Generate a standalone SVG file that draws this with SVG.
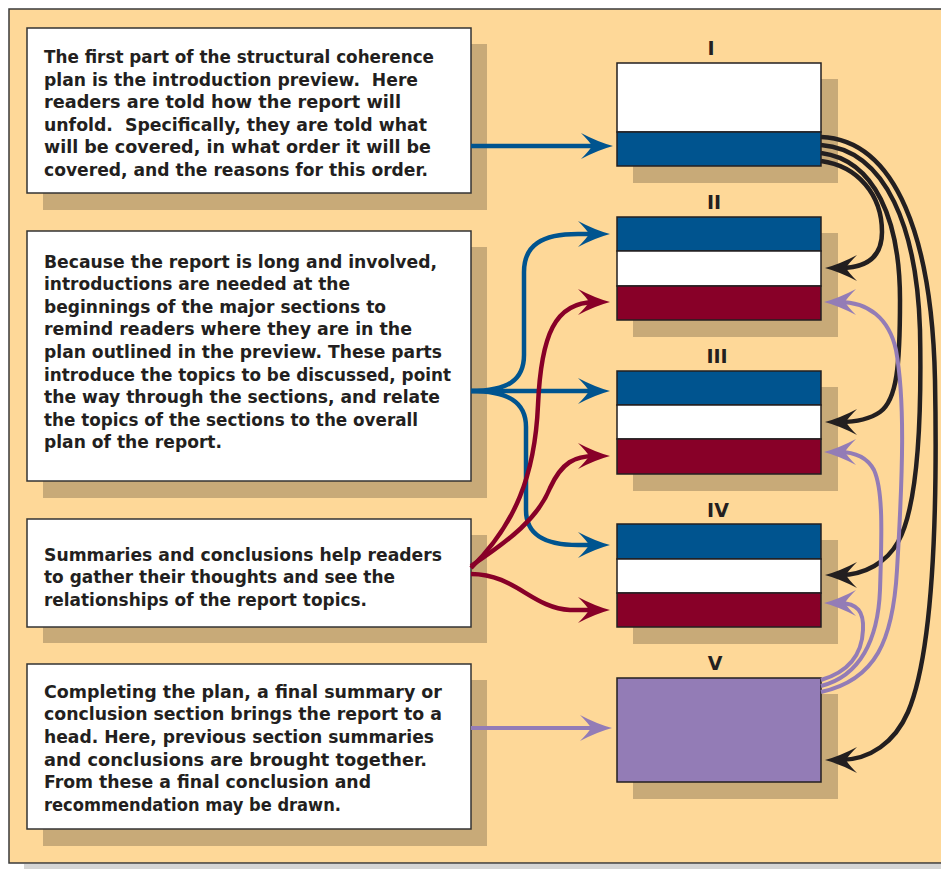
<svg xmlns="http://www.w3.org/2000/svg" width="941" height="869" viewBox="0 0 941 869">
  <style>
    .frame { fill: #FED898; stroke: #3a3a3a; stroke-width: 1.5; }
    .pageshadow { fill: #D5D5D5; }
    .shadow { fill: #C8AA78; }
    .note { fill: #FFFFFF; stroke: #333333; stroke-width: 1.5; }
    .txt { font-family: "DejaVu Sans", "Liberation Sans", sans-serif; font-weight: bold; font-size: 17px; fill: #231F20; white-space: pre; }
    .lbl { font-family: "DejaVu Sans", "Liberation Sans", sans-serif; font-weight: bold; font-size: 19px; fill: #231F20; text-anchor: middle; }
    .band { stroke: #231F20; stroke-width: 1.5; }
    .white { fill: #FFFFFF; }
    .blue { fill: #00548F; }
    .red { fill: #880028; }
    .purple { fill: #937CB6; }
    .c { fill: none; stroke-linecap: butt; stroke-linejoin: round; }
    .cb { stroke: #00548F; stroke-width: 4.5; marker-end: url(#ahBlue); }
    .cr { stroke: #880028; stroke-width: 4.5; marker-end: url(#ahRed); }
    .cp { stroke: #937CB6; stroke-width: 4; marker-end: url(#ahPurple); }
    .ck { stroke: #231F20; stroke-width: 4.5; marker-end: url(#ahBlack); }
  </style>
  <defs>
    <path id="head" d="M0,0 Q-15,-4 -32,-13 Q-23,-4 -21,0 Q-23,4 -32,13 Q-15,4 0,0 Z"/>
    <marker id="ahBlue" markerUnits="userSpaceOnUse" viewBox="-34 -15 36 30" markerWidth="36" markerHeight="30" refX="-15" refY="0" orient="auto">
      <use href="#head" fill="#00548F"/>
    </marker>
    <marker id="ahRed" markerUnits="userSpaceOnUse" viewBox="-34 -15 36 30" markerWidth="36" markerHeight="30" refX="-15" refY="0" orient="auto">
      <use href="#head" fill="#880028"/>
    </marker>
    <marker id="ahPurple" markerUnits="userSpaceOnUse" viewBox="-34 -15 36 30" markerWidth="36" markerHeight="30" refX="-15" refY="0" orient="auto">
      <use href="#head" fill="#937CB6"/>
    </marker>
    <marker id="ahBlack" markerUnits="userSpaceOnUse" viewBox="-34 -15 36 30" markerWidth="36" markerHeight="30" refX="-15" refY="0" orient="auto">
      <use href="#head" fill="#231F20"/>
    </marker>
  </defs>

  <!-- page background and panel -->
  <rect x="0" y="0" width="941" height="869" fill="#FFFFFF"/>
  <rect class="pageshadow" x="24" y="864" width="930" height="10"/>
  <rect class="frame" x="9" y="9" width="945" height="854"/>

  <!-- left notes -->
  <g id="note-preview">
    <rect class="shadow" x="43" y="44" width="444" height="166"/>
    <rect class="note" x="27" y="28" width="444" height="165"/>
    <text class="txt" x="44" y="63" textLength="390" lengthAdjust="spacingAndGlyphs">The first part of the structural coherence</text>
    <text class="txt" x="44" y="86" textLength="374" lengthAdjust="spacingAndGlyphs" xml:space="preserve">plan is the introduction preview.  Here</text>
    <text class="txt" x="44" y="108" textLength="357" lengthAdjust="spacingAndGlyphs">readers are told how the report will</text>
    <text class="txt" x="44" y="131" textLength="383" lengthAdjust="spacingAndGlyphs" xml:space="preserve">unfold.  Specifically, they are told what</text>
    <text class="txt" x="44" y="153" textLength="387" lengthAdjust="spacingAndGlyphs">will be covered, in what order it will be</text>
    <text class="txt" x="44" y="176" textLength="384" lengthAdjust="spacingAndGlyphs">covered, and the reasons for this order.</text>
  </g>

  <g id="note-introductions">
    <rect class="shadow" x="43" y="247" width="444" height="251"/>
    <rect class="note" x="27" y="231" width="444" height="250"/>
    <text class="txt" x="44" y="268" textLength="393" lengthAdjust="spacingAndGlyphs">Because the report is long and involved,</text>
    <text class="txt" x="44" y="290" textLength="306" lengthAdjust="spacingAndGlyphs">introductions are needed at the</text>
    <text class="txt" x="44" y="313" textLength="342" lengthAdjust="spacingAndGlyphs">beginnings of the major sections to</text>
    <text class="txt" x="44" y="335" textLength="368" lengthAdjust="spacingAndGlyphs">remind readers where they are in the</text>
    <text class="txt" x="44" y="358" textLength="398" lengthAdjust="spacingAndGlyphs">plan outlined in the preview. These parts</text>
    <text class="txt" x="44" y="381" textLength="407" lengthAdjust="spacingAndGlyphs">introduce the topics to be discussed, point</text>
    <text class="txt" x="44" y="403" textLength="396" lengthAdjust="spacingAndGlyphs">the way through the sections, and relate</text>
    <text class="txt" x="44" y="426" textLength="374" lengthAdjust="spacingAndGlyphs">the topics of the sections to the overall</text>
    <text class="txt" x="44" y="448" textLength="178" lengthAdjust="spacingAndGlyphs">plan of the report.</text>
  </g>

  <g id="note-summaries">
    <rect class="shadow" x="43" y="535" width="444" height="108"/>
    <rect class="note" x="27" y="519" width="444" height="108"/>
    <text class="txt" x="44" y="561" textLength="398" lengthAdjust="spacingAndGlyphs">Summaries and conclusions help readers</text>
    <text class="txt" x="44" y="583" textLength="351" lengthAdjust="spacingAndGlyphs">to gather their thoughts and see the</text>
    <text class="txt" x="44" y="606" textLength="323" lengthAdjust="spacingAndGlyphs">relationships of the report topics.</text>
  </g>

  <g id="note-final">
    <rect class="shadow" x="43" y="680" width="444" height="166"/>
    <rect class="note" x="27" y="664" width="444" height="165"/>
    <text class="txt" x="44" y="698" textLength="398" lengthAdjust="spacingAndGlyphs">Completing the plan, a final summary or</text>
    <text class="txt" x="44" y="720" textLength="398" lengthAdjust="spacingAndGlyphs">conclusion section brings the report to a</text>
    <text class="txt" x="44" y="743" textLength="390" lengthAdjust="spacingAndGlyphs">head. Here, previous section summaries</text>
    <text class="txt" x="44" y="766" textLength="383" lengthAdjust="spacingAndGlyphs">and conclusions are brought together.</text>
    <text class="txt" x="44" y="788" textLength="327" lengthAdjust="spacingAndGlyphs">From these a final conclusion and</text>
    <text class="txt" x="44" y="811" textLength="297" lengthAdjust="spacingAndGlyphs">recommendation may be drawn.</text>
  </g>

  <!-- report sections -->
  <g id="section-1">
    <text class="lbl" x="711" y="55">I</text>
    <rect class="shadow" x="633" y="79" width="205" height="104"/>
    <rect class="band white" x="617" y="63" width="204" height="69"/>
    <rect class="band blue" x="617" y="132" width="204" height="34"/>
  </g>

  <g id="section-2">
    <text class="lbl" x="714" y="209">II</text>
    <rect class="shadow" x="633" y="233" width="205" height="104"/>
    <rect class="band blue" x="617" y="217" width="204" height="34"/>
    <rect class="band white" x="617" y="251" width="204" height="35"/>
    <rect class="band red" x="617" y="286" width="204" height="34"/>
  </g>

  <g id="section-3">
    <text class="lbl" x="717" y="363">III</text>
    <rect class="shadow" x="633" y="387" width="205" height="104"/>
    <rect class="band blue" x="617" y="371" width="204" height="34"/>
    <rect class="band white" x="617" y="405" width="204" height="34"/>
    <rect class="band red" x="617" y="439" width="204" height="35"/>
  </g>

  <g id="section-4">
    <text class="lbl" x="718" y="517">IV</text>
    <rect class="shadow" x="633" y="540" width="205" height="104"/>
    <rect class="band blue" x="617" y="524" width="204" height="35"/>
    <rect class="band white" x="617" y="559" width="204" height="34"/>
    <rect class="band red" x="617" y="593" width="204" height="34"/>
  </g>

  <g id="section-5">
    <text class="lbl" x="715" y="670">V</text>
    <rect class="shadow" x="633" y="694" width="205" height="105"/>
    <rect class="band purple" x="617" y="678" width="204" height="104"/>
  </g>

  <!-- connectors -->
  <g id="connectors" class="c">
    <!-- preview to section I -->
    <path class="cb" d="M471,146 L598,146"/>
    <!-- section introductions -->
    <path class="cb" d="M471,391 L595,391"/>
    <path class="cb" d="M471,391 C508,391 524,380 524,355 L524,272 C524,245 542,234 578,234 L595,234"/>
    <path class="cb" d="M471,391 C508,391 526,402 526,427 L526,510 C526,535 545,545 578,545 L595,545"/>
    <!-- section summaries -->
    <path class="cr" d="M471,568 C515,525 535,475 538,405 C541,335 555,302 595,302"/>
    <path class="cr" d="M471,566 C510,540 538,518 550,488 C562,462 575,456 595,456"/>
    <path class="cr" d="M471,574 C515,574 532,608 570,610 L595,610"/>
    <!-- final summary -->
    <path class="cp" d="M471,728 L597,728"/>
    <!-- preview feeds every later section -->
    <path class="ck" d="M821,161 C858,166 882,195 882,232 C882,258 866,268 840,268"/>
    <path class="ck" d="M821,153 C875,160 900,220 900,300 C900,365 897,400 880,412 C870,419 858,422 840,422"/>
    <path class="ck" d="M821,145 C887,150 917,230 920,330 C922,430 916,510 898,542 C887,562 865,575 840,575"/>
    <path class="ck" d="M821,137 C897,140 932,240 935,380 C938,540 930,660 908,712 C895,742 870,760 840,760"/>
    <!-- final section draws on earlier summaries -->
    <path class="cp" d="M821,680 C848,672 862,655 863,630 C864,612 858,603 839,603"/>
    <path class="cp" d="M821,686 C860,676 878,640 880,590 C882,530 883,490 874,470 C867,457 855,452 839,452"/>
    <path class="cp" d="M821,692 C876,680 893,640 897,570 C903,470 905,400 896,350 C889,318 868,302 839,302"/>
  </g>
</svg>
